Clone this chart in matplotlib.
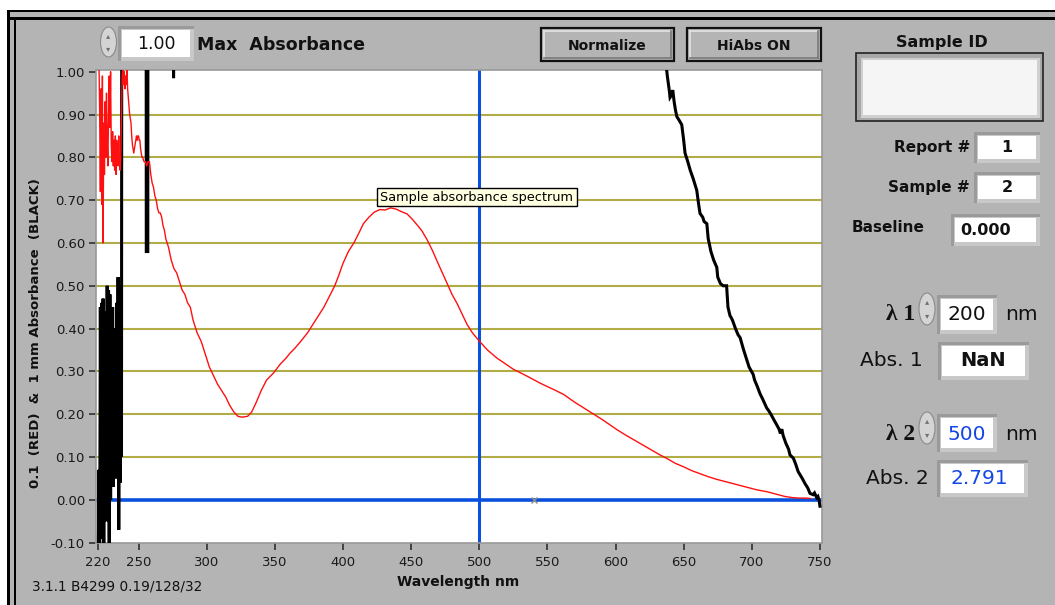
import matplotlib
matplotlib.use("Agg")
import matplotlib.pyplot as plt
from matplotlib.patches import Rectangle, Ellipse
from matplotlib.lines import Line2D

plt.rcParams['font.family'] = ['DejaVu Sans']

# ---------------- data ----------------
red_wl = [220.3, 221.0, 221.5, 222.0, 222.5, 223.0, 223.5, 224.0, 224.5, 225.0, 225.5, 226.0,
          226.5, 227.0, 227.5, 228.0, 228.5, 229.0, 229.5, 230.0, 230.5, 231.0, 231.5, 232.0,
          232.5, 233.0, 233.5, 234.0, 234.5, 235.0, 235.5, 236.0, 236.5, 237.0, 237.5, 238.0,
          238.5, 239.0, 239.5, 240.0, 240.5, 241.0, 241.5, 242.0, 242.5, 243.0, 243.5, 244.0,
          244.5, 245.0, 245.5, 246.0, 246.5, 247.0, 247.5, 248.0, 248.5, 249.0, 249.5, 250.0,
          250.5, 251.0, 251.5, 252.0, 252.5, 253.0, 254.0, 255.0, 256.0, 257.0, 258.0, 259.0,
          260.0, 261.0, 262.0, 263.0, 264.0, 265.0, 266.0, 267.0, 268.0, 269.0, 270.0, 272.0,
          274.0, 276.0, 278.0, 280.0, 282.0, 284.0, 286.0, 288.0, 290.0, 293.0, 296.0, 299.0,
          302.0, 305.0, 308.0, 311.0, 314.0, 317.0, 320.0, 323.0, 326.0, 330.0, 333.0, 336.0,
          340.0, 344.0, 349.0, 354.0, 358.0, 361.0, 365.0, 369.0, 374.0, 378.0, 382.0, 386.0,
          390.0, 394.0, 397.0, 400.0, 404.0, 408.0, 412.0, 415.0, 419.0, 423.0, 427.0, 431.0,
          435.0, 439.0, 443.0, 447.0, 451.0, 455.0, 458.0, 462.0, 466.0, 469.0, 473.0, 476.5,
          480.0, 484.0, 488.0, 491.0, 495.0, 500.0, 506.0, 513.0, 519.0, 525.0, 535.0, 545.0,
          555.0, 562.0, 570.0, 578.0, 584.0, 590.0, 596.0, 601.0, 607.0, 613.0, 620.0, 626.0,
          632.0, 638.0, 644.0, 650.0, 656.0, 662.0, 668.0, 674.0, 680.0, 686.0, 692.0, 698.0,
          704.0, 711.0, 718.0, 724.0, 730.0, 735.0, 740.0, 743.0]
red_abs = [1.05, 1.02, 0.90, 0.72, 0.96, 0.69, 0.99, 0.60, 0.88, 0.76, 0.93, 0.80,
           0.95, 0.84, 0.78, 0.90, 0.99, 0.87, 1.00, 0.83, 0.79, 0.86, 0.78, 0.84,
           0.77, 0.85, 0.76, 0.84, 0.80, 0.78, 0.85, 0.79, 0.77, 0.80, 0.90, 0.99,
           1.02, 0.97, 1.00, 0.96, 0.99, 0.97, 1.01, 0.96, 0.94, 0.92, 0.90, 0.89,
           0.88, 0.85, 0.83, 0.82, 0.81, 0.82, 0.83, 0.84, 0.85, 0.84, 0.85, 0.85,
           0.84, 0.84, 0.82, 0.81, 0.80, 0.80, 0.79, 0.79, 0.78, 0.79, 0.79, 0.76,
           0.74, 0.73, 0.71, 0.70, 0.68, 0.67, 0.67, 0.66, 0.64, 0.63, 0.61, 0.59,
           0.56, 0.54, 0.53, 0.51, 0.49, 0.48, 0.46, 0.45, 0.42, 0.39, 0.37, 0.34,
           0.31, 0.29, 0.27, 0.255, 0.24, 0.22, 0.205, 0.195, 0.193, 0.195, 0.205, 0.225,
           0.255, 0.28, 0.296, 0.317, 0.33, 0.342, 0.355, 0.37, 0.39, 0.41, 0.43, 0.45,
           0.475, 0.50, 0.525, 0.552, 0.58, 0.60, 0.625, 0.645, 0.66, 0.672, 0.678, 0.677,
           0.682, 0.679, 0.673, 0.668, 0.655, 0.64, 0.628, 0.606, 0.58, 0.558, 0.53, 0.505,
           0.48, 0.457, 0.43, 0.41, 0.39, 0.371, 0.35, 0.331, 0.318, 0.305, 0.289, 0.272,
           0.257, 0.246, 0.228, 0.212, 0.20, 0.188, 0.175, 0.164, 0.152, 0.141, 0.128, 0.117,
           0.106, 0.096, 0.085, 0.077, 0.068, 0.061, 0.054, 0.048, 0.043, 0.038, 0.033, 0.028,
           0.023, 0.019, 0.013, 0.008, 0.005, 0.004, 0.004, 0.003]

black_wl = [220.5, 221.0, 221.5, 222.0, 222.5, 223.0, 223.5, 224.0, 224.5, 225.0, 225.5, 226.0,
            226.5, 227.0, 227.5, 228.0, 228.5, 229.0, 229.5, 230.0, 230.5, 231.0, 231.5, 232.0,
            232.5, 233.0, 233.5, 234.0, 234.5, 235.0, 235.5, 236.0, 236.5, 237.0, 237.5, 238.2,
            255.2, 255.7, 256.8, 257.3, 275.4, 275.7, 276.0, 300.0, 400.0, 500.0, 600.0, 630.0,
            637.0, 638.0, 639.5, 640.0, 641.0, 642.0, 643.0, 644.0, 645.0, 647.0, 648.6, 650.0,
            651.0, 653.0, 654.8, 657.0, 659.6, 661.0, 662.0, 664.0, 665.0, 667.0, 668.0, 670.0,
            672.0, 674.3, 675.0, 677.0, 679.0, 681.5, 682.5, 684.0, 685.0, 686.0, 688.0, 690.0,
            691.4, 694.0, 696.0, 698.0, 701.0, 702.0, 704.0, 706.0, 708.0, 711.0, 712.0, 714.0,
            716.0, 718.3, 720.0, 721.0, 722.0, 723.0, 725.0, 727.0, 728.0, 730.5, 732.0, 734.0,
            737.0, 739.0, 741.0, 742.7, 745.0, 746.0, 747.6, 748.5, 749.3, 750.0]
black_abs = [-0.12, 0.07, -0.12, 0.45, -0.09, 0.46, 0.02, 0.47, -0.12, 0.40, 0.05, 0.44,
             -0.05, 0.50, 0.12, 0.49, -0.12, 0.48, 0.00, 0.35, 0.10, 0.45, 0.03, 0.40,
             0.08, 0.38, 0.05, 0.46, 0.06, 0.52, -0.07, 0.50, 0.04, 0.48, 0.10, 4.0,
             4.0, 0.58, 0.58, 4.0, 4.0, 0.985, 4.0, 4.0, 3.4, 2.791, 1.6, 1.15,
             1.02, 0.99, 0.955, 0.94, 0.945, 0.957, 0.93, 0.91, 0.895, 0.885, 0.876, 0.84,
             0.81, 0.79, 0.77, 0.75, 0.723, 0.69, 0.669, 0.66, 0.65, 0.645, 0.61, 0.58,
             0.56, 0.543, 0.52, 0.505, 0.50, 0.50, 0.45, 0.43, 0.425, 0.418, 0.40, 0.385,
             0.379, 0.35, 0.33, 0.31, 0.293, 0.28, 0.265, 0.248, 0.235, 0.214, 0.21, 0.20,
             0.188, 0.175, 0.165, 0.155, 0.165, 0.15, 0.132, 0.118, 0.105, 0.097, 0.085, 0.066,
             0.05, 0.038, 0.028, 0.015, 0.012, 0.016, 0.005, 0.008, 0.0, -0.015]

y_ticks = [-0.10, 0.00, 0.10, 0.20, 0.30, 0.40, 0.50, 0.60, 0.70, 0.80, 0.90, 1.00]
x_ticks = [220, 250, 300, 350, 400, 450, 500, 550, 600, 650, 700, 750]
grid_levels = [0.10, 0.20, 0.30, 0.40, 0.50, 0.60, 0.70, 0.80, 0.90]
cursor_wl = 500
baseline = 0.0
marker_wl, marker_abs = 540, 0.0

# ---------------- figure ----------------
W, H = 1055, 605
BG = '#b4b4b4'
fig = plt.figure(figsize=(W / 100, H / 100), dpi=100, facecolor=BG)


def R(x0, y0, x1, y1, **kw):
    fig.add_artist(Rectangle((x0 / W, 1 - y1 / H), (x1 - x0) / W, (y1 - y0) / H,
                             transform=fig.transFigure, **kw))


def L(x0, y0, x1, y1, **kw):
    fig.add_artist(Line2D([x0 / W, x1 / W], [1 - y0 / H, 1 - y1 / H],
                          transform=fig.transFigure, **kw))


def T(x, y, s, **kw):
    fig.text(x / W, 1 - y / H, s, **kw)


def sunken(x0, y0, x1, y1, fill='white', edge=None):
    R(x0 - 4, y0 - 4, x1 + 4, y1 + 4, facecolor='#9a9a9a', edgecolor='none')
    R(x0 - 1, y0 - 1, x1 + 4, y1 + 4, facecolor='#c8c8c8', edgecolor='none')
    R(x0, y0, x1, y1, facecolor=fill, edgecolor='none')
    if edge:
        R(x0 - 6, y0 - 6, x1 + 6, y1 + 6, facecolor='none', edgecolor=edge, lw=1.2)


def spinner(cx, cy, h):
    fig.add_artist(Ellipse((cx / W, 1 - cy / H), 16 / W, h / H, transform=fig.transFigure,
                           facecolor='#d4d4d4', edgecolor='#8a8a8a', lw=0.8))
    T(cx, cy - h * 0.22, '▴', ha='center', va='center', fontsize=6, color='#707070')
    T(cx, cy + h * 0.22, '▾', ha='center', va='center', fontsize=6, color='#707070')


def button(x0, y0, x1, y1, label):
    R(x0, y0, x1, y1, facecolor=BG, edgecolor='#111111', lw=1.6)
    L(x0 + 3, y0 + 3, x1 - 3, y0 + 3, color='#e4e4e4', lw=1.2)
    L(x0 + 3, y0 + 3, x0 + 3, y1 - 3, color='#e4e4e4', lw=1.2)
    L(x0 + 3, y1 - 3, x1 - 3, y1 - 3, color='#7a7a7a', lw=1.2)
    L(x1 - 3, y0 + 3, x1 - 3, y1 - 3, color='#7a7a7a', lw=1.2)
    T((x0 + x1) / 2, (y0 + y1) / 2 + 1, label, ha='center', va='center',
      fontsize=10, fontweight='bold', color='#111111')


# window border
R(0, 0, W, 10, facecolor='white', edgecolor='none')
R(0, 0, 7, H, facecolor='white', edgecolor='none')
R(7, 10, W, 12, facecolor='black', edgecolor='none')
R(7, 17, W, 19.5, facecolor='black', edgecolor='none')
R(7, 10, 10, H, facecolor='black', edgecolor='none')
R(13.5, 17, 16, H, facecolor='black', edgecolor='none')

# ---------------- plot ----------------
ax = fig.add_axes([96 / W, 1 - 543.3 / H, (822 - 96) / W, (543.3 - 70) / H])
ax.set_facecolor('white')
ax.set_xlim(218.8, 751.5)
ax.set_ylim(-0.1016, 1.004)

for g in grid_levels:
    ax.axhline(g, color='#b2ac46', lw=1.5, zorder=1)
ax.axhline(baseline, color='#0a50dc', lw=2.6, zorder=2)
ax.axvline(cursor_wl, color='#0a50dc', lw=2.2, zorder=2)

ax.plot(red_wl, red_abs, color='#ff1010', lw=1.0, zorder=4)
ax.plot(black_wl, black_abs, color='black', lw=2.2, zorder=3, solid_joinstyle='miter')
ax.plot([marker_wl], [marker_abs], marker='x', color='#8a8a8a', ms=5, mew=1, zorder=5)

ax.set_yticks(y_ticks)
ax.set_yticklabels([f'{v:.2f}' for v in y_ticks])
ax.set_xticks(x_ticks)
ax.set_xticklabels([str(v) for v in x_ticks])
ax.tick_params(axis='both', direction='out', length=5, width=1.2, color='#303030',
               labelsize=9.5, labelcolor='#1a1a1a', pad=3)
ax.tick_params(axis='x', pad=4)
for s in ax.spines.values():
    s.set_color('#999999')
    s.set_linewidth(1.2)

T(36, 333, '0.1  (RED)  &  1 mm Absorbance  (BLACK)', rotation=90, ha='center',
  va='center', fontsize=9.5, fontweight='bold', color='#111111')
T(458, 582, 'Wavelength nm', ha='center', va='center', fontsize=10,
  fontweight='bold', color='#111111')
T(32, 586, '3.1.1 B4299 0.19/128/32', ha='left', va='center', fontsize=9.8,
  color='#111111')

# tooltip
R(377, 188, 577, 206, facecolor='#ffffe1', edgecolor='black', lw=1.0, zorder=10)
T(379.5, 197.5, 'Sample absorbance spectrum', ha='left', va='center', fontsize=9.3,
  color='black', zorder=11)

# ---------------- top controls ----------------
spinner(108.5, 42, 30)
sunken(122, 30, 190, 57)
T(156, 44, '1.00', ha='center', va='center', fontsize=12.5, color='#111111')
T(197, 44.5, 'Max  Absorbance', ha='left', va='center', fontsize=12.5,
  fontweight='bold', color='#111111')
button(541, 28, 674, 61, 'Normalize')
button(687, 28, 821, 61, 'HiAbs ON')

# ---------------- right panel ----------------
T(942, 42, 'Sample ID', ha='center', va='center', fontsize=11.5, fontweight='bold',
  color='#111111')
R(856, 53, 1043, 121, facecolor='#a8a8a8', edgecolor='#222222', lw=1.2)
R(861, 58, 1040, 118, facecolor='#d0d0d0', edgecolor='none')
R(863, 60, 1037, 115, facecolor='#f5f5f5', edgecolor='none')

T(970, 148, 'Report #', ha='right', va='center', fontsize=11, fontweight='bold',
  color='#111111')
sunken(978, 136, 1036, 159)
T(1007, 148, '1', ha='center', va='center', fontsize=11.5, fontweight='bold', color='#111111')

T(970, 188, 'Sample #', ha='right', va='center', fontsize=11, fontweight='bold',
  color='#111111')
sunken(978, 176, 1036, 199)
T(1007, 188, '2', ha='center', va='center', fontsize=11.5, fontweight='bold', color='#111111')

T(852, 228, 'Baseline', ha='left', va='center', fontsize=11, fontweight='bold',
  color='#111111')
sunken(955, 218, 1036, 242)
T(986, 230, '0.000', ha='center', va='center', fontsize=11.5, fontweight='bold',
  color='#111111')

serif = ['Liberation Serif', 'DejaVu Serif']
T(915, 315, 'λ 1', ha='right', va='center', fontsize=17, fontweight='bold',
  family=serif, color='#111111')
spinner(927, 309, 32)
sunken(941, 299, 993, 330)
T(967, 315, '200', ha='center', va='center', fontsize=14.5, color='#111111')
T(1005, 315, 'nm', ha='left', va='center', fontsize=14.5, color='#111111')

T(923, 360, 'Abs. 1', ha='right', va='center', fontsize=14.5, color='#111111')
sunken(942, 346, 1025, 376)
T(983, 361, 'NaN', ha='center', va='center', fontsize=14, fontweight='bold',
  color='#111111')

T(915, 434, 'λ 2', ha='right', va='center', fontsize=17, fontweight='bold',
  family=serif, color='#111111')
spinner(927, 428, 32)
sunken(941, 418, 993, 448)
T(967, 434, '500', ha='center', va='center', fontsize=14.5, color='#1446e6')
T(1005, 434, 'nm', ha='left', va='center', fontsize=14.5, color='#111111')

T(929, 479, 'Abs. 2', ha='right', va='center', fontsize=14.5, color='#111111')
sunken(941, 464, 1024, 493)
T(950, 479, '2.791', ha='left', va='center', fontsize=14.5, color='#1446e6')

fig.savefig('out.png', dpi=100, facecolor=BG)
